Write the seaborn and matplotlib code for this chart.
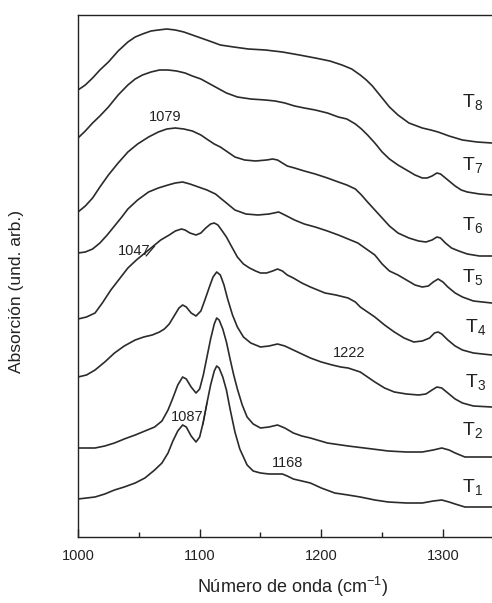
import numpy as np
import pandas as pd
import matplotlib
matplotlib.use("Agg")
import matplotlib.pyplot as plt
import seaborn as sns

# ---- data (wavenumber in cm-1, absorbance in arbitrary units, stacked) ----
wn_T8 = [1000, 1006, 1012, 1018, 1025, 1033, 1041, 1047, 1053, 1060, 1066, 1073, 1080,
         1087, 1094, 1101, 1108, 1117, 1128, 1140, 1154, 1168, 1182, 1195, 1207, 1217,
         1225, 1232, 1237, 1242, 1246, 1250, 1256, 1263, 1272, 1283, 1290, 1296, 1305,
         1316, 1328, 1340]
ab_T8 = [447, 452, 459, 467, 475, 486, 495, 500, 503, 506, 507, 508, 507,
         505, 502, 499, 496, 492, 490, 488, 487, 485, 482, 479, 476, 472,
         468, 462, 457, 451, 445, 439, 430, 422, 414, 409, 407, 405, 401,
         397, 395, 394]

wn_T7 = [1000, 1006, 1012, 1018, 1025, 1033, 1041, 1047, 1053, 1060, 1067, 1074, 1081,
         1088, 1094, 1101, 1107, 1113, 1122, 1131, 1142, 1154, 1162, 1170, 1178, 1186,
         1195, 1205, 1214, 1221, 1228, 1233, 1238, 1244, 1250, 1256, 1263, 1270, 1277,
         1283, 1287, 1291, 1295, 1298, 1301, 1305, 1310, 1315, 1320, 1330, 1340]
ab_T7 = [399, 406, 414, 421, 430, 442, 452, 458, 462, 465, 467, 467, 466,
         464, 461, 458, 454, 450, 444, 440, 438, 437, 436, 434, 431, 429,
         427, 424, 420, 418, 413, 408, 402, 394, 385, 378, 372, 367, 362,
         359, 359, 361, 364, 363, 360, 356, 351, 347, 345, 343, 342]

wn_T6 = [1000, 1006, 1012, 1018, 1025, 1033, 1041, 1049, 1058, 1066, 1073, 1080, 1087,
         1094, 1101, 1107, 1112, 1117, 1123, 1129, 1137, 1146, 1155, 1160, 1164, 1168,
         1172, 1178, 1186, 1195, 1205, 1214, 1221, 1228, 1233, 1238, 1244, 1250, 1256,
         1263, 1272, 1280, 1286, 1291, 1295, 1298, 1302, 1307, 1313, 1320, 1330, 1340]
ab_T6 = [325, 331, 339, 350, 362, 374, 385, 393, 400, 405, 408, 409, 408,
         406, 402, 397, 393, 390, 385, 380, 377, 376, 377, 378, 377, 374,
         371, 369, 366, 363, 359, 355, 352, 348, 342, 335, 327, 319, 311,
         304, 299, 296, 295, 297, 300, 299, 294, 289, 286, 283, 281, 281]

wn_T5 = [1000, 1006, 1012, 1018, 1024, 1030, 1036, 1041, 1049, 1058, 1066, 1074, 1080,
         1086, 1092, 1099, 1106, 1113, 1121, 1129, 1138, 1148, 1157, 1165, 1170, 1178,
         1186, 1195, 1205, 1214, 1222, 1230, 1237, 1244, 1250, 1256, 1263, 1270, 1277,
         1283, 1288, 1292, 1296, 1300, 1304, 1310, 1316, 1325, 1340]
ab_T5 = [284, 285, 288, 294, 302, 311, 320, 328, 337, 345, 349, 352, 354,
         355, 353, 350, 347, 343, 335, 327, 323, 322, 323, 325, 322, 317,
         313, 310, 306, 302, 298, 294, 288, 282, 273, 266, 262, 257, 252,
         250, 251, 255, 258, 255, 250, 244, 240, 236, 234]

wn_T4 = [1000, 1007, 1014, 1020, 1027, 1034, 1041, 1048, 1055, 1062, 1068, 1075, 1080,
         1085, 1088, 1092, 1097, 1101, 1105, 1109, 1112, 1115, 1118, 1122, 1126, 1131,
         1136, 1141, 1146, 1150, 1155, 1160, 1164, 1168, 1172, 1177, 1184, 1191, 1203,
         1212, 1222, 1228, 1232, 1238, 1244, 1252, 1260, 1268, 1276, 1283, 1289, 1293,
         1296, 1299, 1304, 1310, 1316, 1325, 1340]
ab_T4 = [218, 220, 224, 234, 247, 258, 269, 277, 284, 291, 297, 302, 306,
         308, 307, 304, 302, 304, 309, 313, 314, 312, 307, 300, 291, 280,
         273, 269, 266, 264, 264, 266, 268, 266, 262, 259, 254, 250, 244,
         242, 239, 235, 230, 225, 220, 212, 205, 199, 195, 196, 199, 204,
         205, 203, 197, 191, 187, 184, 182]

wn_T3 = [1000, 1007, 1014, 1022, 1030, 1038, 1047, 1054, 1061, 1067, 1071, 1075, 1079,
         1083, 1086, 1089, 1093, 1097, 1101, 1104, 1108, 1111, 1114, 1117, 1120, 1123,
         1127, 1131, 1136, 1142, 1150, 1157, 1164, 1170, 1177, 1184, 1191, 1200, 1209,
         1216, 1222, 1232, 1238, 1244, 1252, 1260, 1270, 1280, 1286, 1291, 1295, 1299,
         1304, 1310, 1316, 1325, 1340]
ab_T3 = [160, 162, 167, 175, 184, 191, 197, 200, 202, 205, 208, 213, 221,
         229, 232, 230, 224, 221, 226, 236, 250, 260, 265, 262, 252, 238,
         222, 210, 200, 194, 190, 191, 193, 191, 187, 183, 179, 175, 172,
         170, 169, 165, 160, 155, 149, 145, 143, 142, 143, 147, 150, 149,
         144, 138, 134, 131, 130]

wn_T2 = [1000, 1014, 1022, 1030, 1038, 1047, 1055, 1063, 1069, 1074, 1078, 1082, 1086,
         1089, 1093, 1097, 1100, 1103, 1106, 1109, 1112, 1114, 1116, 1119, 1122, 1125,
         1128, 1131, 1135, 1139, 1144, 1150, 1157, 1164, 1170, 1177, 1184, 1191, 1205,
         1222, 1242, 1255, 1270, 1283, 1292, 1299, 1305, 1310, 1318, 1340]
ab_T2 = [89, 89, 91, 94, 98, 102, 106, 110, 116, 127, 139, 152, 160,
         158, 150, 144, 148, 162, 180, 198, 213, 219, 217, 208, 195, 178,
         162, 148, 132, 120, 113, 109, 110, 112, 109, 104, 101, 99, 94,
         91, 88, 86, 85, 85, 87, 89, 87, 84, 80, 80]

wn_T1 = [1000, 1007, 1014, 1022, 1030, 1038, 1047, 1055, 1063, 1069, 1074, 1078, 1082,
         1086, 1089, 1093, 1097, 1100, 1103, 1106, 1109, 1112, 1114, 1116, 1119, 1122,
         1125, 1129, 1133, 1139, 1144, 1150, 1157, 1164, 1168, 1172, 1177, 1184, 1191,
         1200, 1211, 1222, 1232, 1244, 1255, 1270, 1283, 1292, 1299, 1305, 1310, 1318,
         1340]
ab_T1 = [38, 39, 40, 43, 47, 50, 54, 59, 67, 74, 84, 96, 106,
         112, 110, 101, 95, 100, 115, 134, 152, 166, 171, 169, 160, 147,
         128, 105, 88, 72, 66, 64, 63, 63, 63, 61, 58, 56, 54,
         49, 44, 42, 40, 37, 35, 34, 34, 36, 37, 35, 33, 30,
         30]

series_names = ["T1", "T2", "T3", "T4", "T5", "T6", "T7", "T8"]
series_wn = [wn_T1, wn_T2, wn_T3, wn_T4, wn_T5, wn_T6, wn_T7, wn_T8]
series_ab = [ab_T1, ab_T2, ab_T3, ab_T4, ab_T5, ab_T6, ab_T7, ab_T8]

# label positions (wavenumber, absorbance) for T_n tags
tag_wn = [1316, 1316, 1318, 1318, 1316, 1316, 1316, 1316]
tag_ab = [50, 107, 155, 210, 260, 312, 372, 435]

peak_labels = ["1079", "1047", "1087", "1168", "1222"]
peak_wn = [1071.5, 1046, 1090, 1172, 1222.5]
peak_ab = [420, 286, 120, 74, 184]

# ---- build long table ----
rows = []
for name, w, a in zip(series_names, series_wn, series_ab):
    for xv, yv in zip(w, a):
        rows.append((name, xv, yv))
df = pd.DataFrame(rows, columns=["muestra", "wn", "abs"])

sns.set_style("white")
plt.rcParams["font.family"] = ["Liberation Sans", "DejaVu Sans"]
plt.rcParams["mathtext.fontset"] = "custom"
plt.rcParams["mathtext.rm"] = "Liberation Sans"
plt.rcParams["mathtext.it"] = "Liberation Sans"

fig = plt.figure(figsize=(4.92, 6.03), dpi=100)
ax = fig.add_axes([78 / 492, 66 / 603, 1 - 78 / 492, 522 / 603])

sns.lineplot(data=df, x="wn", y="abs", units="muestra", estimator=None, sort=False,
             color="#2b2b2b", linewidth=1.2, ax=ax, legend=False)

ax.set_xlim(1000, 1340.3)
ax.set_ylim(0, 522)
ax.set_xticks([1000, 1100, 1200, 1300])
ax.set_xticks([1050, 1150, 1250], minor=True)
ax.set_yticks([])
ax.tick_params(axis="x", which="both", bottom=True, top=False)
ax.tick_params(axis="x", which="major", direction="in", length=6, width=1,
               labelsize=10.5, pad=9, colors="#222222")
ax.tick_params(axis="x", which="minor", direction="in", length=3.5, width=1,
               colors="#222222")
for s in ["left", "bottom", "top"]:
    ax.spines[s].set_visible(True)
    ax.spines[s].set_linewidth(1.0)
    ax.spines[s].set_color("#222222")
ax.spines["right"].set_visible(False)

ax.set_xlabel("Número de onda (cm$^{-1}$)", fontsize=13, color="#222222")
ax.xaxis.set_label_coords(0.517, -0.072)
ax.set_ylabel("Absorción (und. arb.)", fontsize=12.5, color="#222222")
ax.yaxis.set_label_coords(-0.13, 0.47)

for name, xw, ya in zip(series_names, tag_wn, tag_ab):
    ax.text(xw, ya, "T$_{%s}$" % name[1:], fontsize=14, ha="left", va="center",
            color="#222222")

for lab, xw, ya in zip(peak_labels, peak_wn, peak_ab):
    ax.text(xw, ya, lab, fontsize=10.5, ha="center", va="center", color="#222222")

# short leader strokes attached to two labels
ax.annotate("", xy=(1063, 291), xytext=(1056, 281),
            arrowprops=dict(arrowstyle="-", color="#222222", lw=0.9,
                            shrinkA=0, shrinkB=0))
ax.annotate("", xy=(1106, 134), xytext=(1102.5, 112),
            arrowprops=dict(arrowstyle="-", color="#222222", lw=0.9,
                            shrinkA=0, shrinkB=0))

fig.savefig("out.png", dpi=100)
